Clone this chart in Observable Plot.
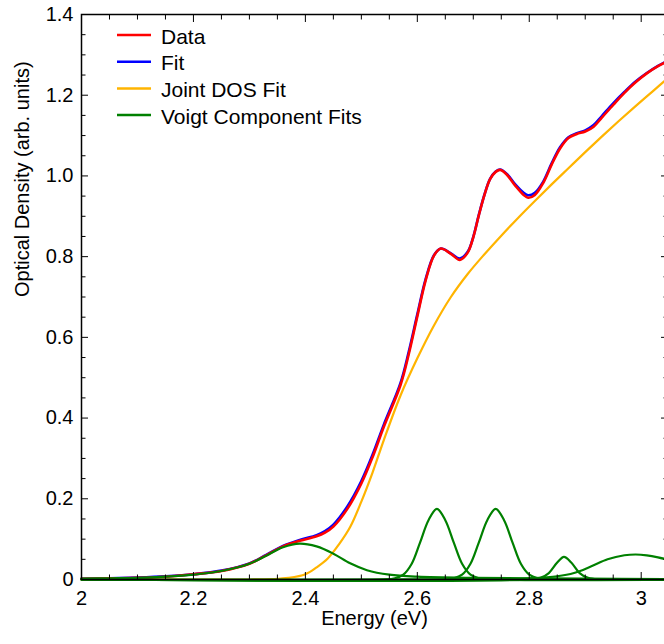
<!DOCTYPE html>
<html>
<head>
<meta charset="utf-8">
<script src="https://cdn.jsdelivr.net/npm/d3@7"></script>
<script src="https://cdn.jsdelivr.net/npm/@observablehq/plot@0.6"></script>
<style>
  html, body { margin: 0; padding: 0; background: white; overflow: hidden; }
</style>
</head>
<body>
<div id="chart"></div>
<script>
// Measured absorption spectrum (energy in eV, optical density)
const dataEnergy = [2.00,2.05,2.10,2.15,2.20,2.25,2.30,2.33,2.36,2.39,2.42,2.435,2.45,2.475,2.50,2.52,2.54,2.57,2.585,2.60,2.615,2.63,2.642,2.66,2.676,2.69,2.70,2.71,2.72,2.73,2.74,2.748,2.76,2.775,2.79,2.798,2.81,2.825,2.84,2.855,2.87,2.885,2.90,2.915,2.93,2.95,2.97,2.99,3.01,3.03,3.05];
const dataOD = [0.002,0.003,0.004,0.007,0.013,0.021,0.039,0.060,0.082,0.096,0.107,0.116,0.131,0.175,0.238,0.303,0.378,0.482,0.560,0.652,0.742,0.803,0.820,0.807,0.792,0.810,0.848,0.903,0.953,0.992,1.010,1.015,1.003,0.976,0.953,0.946,0.953,0.983,1.028,1.068,1.094,1.104,1.110,1.122,1.145,1.176,1.206,1.232,1.254,1.272,1.286];

// Total fit, on the same energy grid
const fitOD = [0.002,0.003,0.005,0.008,0.013,0.022,0.040,0.061,0.083,0.098,0.110,0.120,0.136,0.181,0.244,0.309,0.383,0.487,0.566,0.657,0.745,0.804,0.820,0.808,0.795,0.812,0.849,0.904,0.954,0.993,1.011,1.016,1.005,0.979,0.958,0.952,0.958,0.986,1.031,1.071,1.096,1.106,1.113,1.126,1.149,1.180,1.208,1.234,1.255,1.273,1.287];

// Joint density of states component
const jdosEnergy = [2.00,2.30,2.34,2.37,2.40,2.42,2.44,2.46,2.48,2.50,2.52,2.54,2.57,2.60,2.63,2.66,2.69,2.72,2.75,2.78,2.81,2.84,2.87,2.90,2.93,2.96,2.99,3.02,3.05];
const jdosOD = [0,0,0.001,0.004,0.013,0.030,0.052,0.087,0.130,0.193,0.265,0.345,0.456,0.548,0.630,0.700,0.757,0.806,0.852,0.896,0.938,0.979,1.019,1.059,1.098,1.136,1.173,1.209,1.245];

// Voigt components
const voigt1Energy = [2.00,2.05,2.10,2.15,2.20,2.25,2.30,2.33,2.36,2.39,2.42,2.45,2.48,2.51,2.55,2.60,2.70,2.80,2.90,3.05];
const voigt1OD = [0.002,0.003,0.004,0.007,0.012,0.021,0.039,0.059,0.080,0.089,0.082,0.064,0.040,0.023,0.012,0.007,0.004,0.003,0.002,0.001];
const voigt2Energy = [2.00,2.54,2.56,2.575,2.59,2.605,2.62,2.635,2.65,2.665,2.68,2.695,2.71,2.73,3.05];
const voigt2OD = [0,0,0.003,0.012,0.039,0.092,0.147,0.175,0.147,0.092,0.039,0.012,0.003,0,0];
const voigt3Energy = [2.00,2.645,2.665,2.68,2.695,2.71,2.725,2.74,2.755,2.77,2.785,2.80,2.815,2.835,3.05];
const voigt3OD = [0,0,0.003,0.012,0.039,0.092,0.147,0.175,0.147,0.092,0.039,0.012,0.003,0,0];
const voigt4Energy = [2.00,2.80,2.82,2.835,2.85,2.862,2.875,2.89,2.905,2.925,3.05];
const voigt4OD = [0,0,0.004,0.016,0.042,0.056,0.042,0.016,0.004,0,0];
const voigt5Energy = [2.00,2.75,2.80,2.85,2.88,2.91,2.94,2.97,2.99,3.01,3.03,3.05];
const voigt5OD = [0,0.001,0.003,0.008,0.016,0.032,0.050,0.060,0.062,0.060,0.055,0.048];

// Axis ticks and labels
const xMajor = [2, 2.2, 2.4, 2.6, 2.8, 3];
const xTickLabels = ["2", "2.2", "2.4", "2.6", "2.8", "3"];
const xMinor = [2.05, 2.1, 2.15, 2.25, 2.3, 2.35, 2.45, 2.5, 2.55, 2.65, 2.7, 2.75, 2.85, 2.9, 2.95];
const yMajor = [0, 0.2, 0.4, 0.6, 0.8, 1.0, 1.2, 1.4];
const yTickLabels = ["0", "0.2", "0.4", "0.6", "0.8", "1.0", "1.2", "1.4"];
const yMinor = [0.05,0.1,0.15,0.25,0.3,0.35,0.45,0.5,0.55,0.65,0.7,0.75,0.85,0.9,0.95,1.05,1.1,1.15,1.25,1.3,1.35];

const legendLabels = ["Data", "Fit", "Joint DOS Fit", "Voigt Component Fits"];
const seriesColors = ["#ff0000", "#0000ff", "#ffb400", "#008000"];

const xTitle = "Energy (eV)";
const yTitle = "Optical Density (arb. units)";

// Tables for the marks
const dataTable = dataEnergy.map((e, i) => ({e, od: dataOD[i]}));
const fitTable = dataEnergy.map((e, i) => ({e, od: fitOD[i]}));
const jdosTable = jdosEnergy.map((e, i) => ({e, od: jdosOD[i]}));
const voigtTable = [
  [voigt1Energy, voigt1OD], [voigt2Energy, voigt2OD], [voigt3Energy, voigt3OD],
  [voigt4Energy, voigt4OD], [voigt5Energy, voigt5OD]
].flatMap(([es, ods], c) => es.map((e, i) => ({c, e, od: ods[i]})));

const xLabel = new Map(xMajor.map((t, i) => [t, xTickLabels[i]]));
const yLabel = new Map(yMajor.map((t, i) => [t, yTickLabels[i]]));

const W = 664, H = 644;
const font = "'Liberation Sans', Arial, Helvetica, sans-serif";

const chart = Plot.plot({
  width: W,
  height: H,
  marginLeft: 81,
  marginRight: -3,
  marginTop: 14,
  marginBottom: 65,
  style: {fontFamily: font, fontSize: "20px", color: "black", background: "white", overflow: "hidden"},
  x: {domain: [2, 3.047], axis: null},
  y: {domain: [0, 1.4], axis: null},
  marks: [
    // curves
    Plot.line(jdosTable, {x: "e", y: "od", stroke: seriesColors[2], strokeWidth: 2.2, curve: "catmull-rom"}),
    Plot.line(fitTable, {x: "e", y: "od", stroke: seriesColors[1], strokeWidth: 2.6, curve: "catmull-rom"}),
    Plot.line(dataTable, {x: "e", y: "od", stroke: seriesColors[0], strokeWidth: 2.6, curve: "catmull-rom"}),
    Plot.line(voigtTable, {x: "e", y: "od", z: "c", stroke: seriesColors[3], strokeWidth: 2.2, curve: "catmull-rom"}),

    // inward ticks on all four sides
    Plot.axisX(xMajor, {anchor: "bottom", tickSize: 7, dy: -7, fill: "none", label: null}),
    Plot.axisX(xMinor, {anchor: "bottom", tickSize: 4.5, dy: -4.5, fill: "none", label: null}),
    Plot.axisX(xMajor, {anchor: "top", tickSize: 7, dy: 7, fill: "none", label: null}),
    Plot.axisX(xMinor, {anchor: "top", tickSize: 4.5, dy: 4.5, fill: "none", label: null}),
    Plot.axisY(yMajor, {anchor: "left", tickSize: 7, dx: 7, fill: "none", label: null}),
    Plot.axisY(yMinor, {anchor: "left", tickSize: 4.5, dx: 4.5, fill: "none", label: null}),
    Plot.axisY(yMajor, {anchor: "right", tickSize: 7, dx: -7, fill: "none", label: null}),
    Plot.axisY(yMinor, {anchor: "right", tickSize: 4.5, dx: -4.5, fill: "none", label: null}),

    // tick labels
    Plot.axisX(xMajor, {anchor: "bottom", tickSize: 0, tickPadding: 11, tickFormat: d => xLabel.get(d), fontSize: 20, label: null}),
    Plot.axisY(yMajor, {anchor: "left", tickSize: 0, tickPadding: 8, tickFormat: d => yLabel.get(d), fontSize: 20, label: null}),

    // axis titles
    Plot.text([xTitle], {text: d => d, frameAnchor: "bottom", dy: 45, fontSize: 20}),
    Plot.text([yTitle], {text: d => d, frameAnchor: "left", dx: -59, rotate: -90, fontSize: 20}),

    Plot.frame({stroke: "black", strokeWidth: 1.5})
  ]
});

// legend in the upper left of the plotting area
const svg = d3.select(chart);
const legend = svg.append("g")
  .attr("font-family", font)
  .attr("font-size", 21)
  .attr("text-anchor", "start")
  .attr("fill", "black");
legendLabels.forEach((label, i) => {
  const y = 35 + i * 26.7;
  legend.append("line")
    .attr("x1", 117).attr("x2", 151)
    .attr("y1", y).attr("y2", y)
    .attr("stroke", seriesColors[i])
    .attr("stroke-width", 2.5);
  legend.append("text")
    .attr("x", 161).attr("y", y + 1)
    .attr("text-anchor", "start")
    .attr("dominant-baseline", "central")
    .text(label);
});

document.getElementById("chart").appendChild(chart);
</script>
</body>
</html>
